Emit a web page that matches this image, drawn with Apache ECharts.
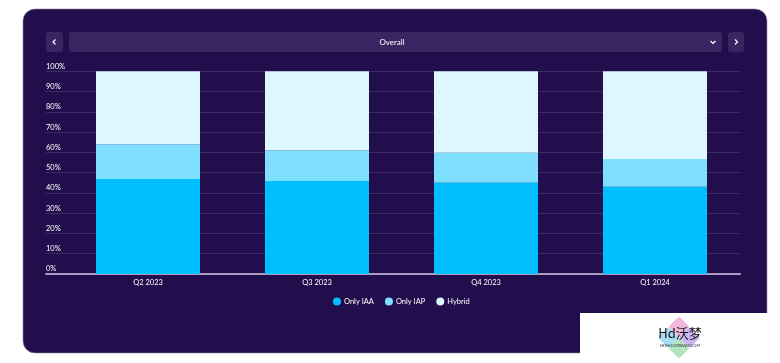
<!DOCTYPE html>
<html>
<head>
<meta charset="utf-8">
<script src="https://cdn.jsdelivr.net/npm/echarts@6/dist/echarts.min.js"></script>
<style>
html,body{margin:0;padding:0;background:#ffffff;}
#chart{width:780px;height:363px;}
</style>
</head>
<body>
<div id="chart"></div>
<script>
const categories = ['Q2 2023', 'Q3 2023', 'Q4 2023', 'Q1 2024'];
const onlyIAA = [46.9, 45.9, 45.0, 43.1];
const onlyIAP = [17.1, 15.1, 14.8, 13.6];
const hybrid = [36.0, 39.0, 40.2, 43.3];
const seriesNames = ['Only IAA', 'Only IAP', 'Hybrid'];
const yTicks = [0, 10, 20, 30, 40, 50, 60, 70, 80, 90, 100];
const filterLabel = 'Overall';

const FONT = 'Lato, "Open Sans", sans-serif';
const chart = echarts.init(document.getElementById('chart'), null, {renderer: 'canvas'});

const option = {
  animation: false,
  backgroundColor: 'transparent',
  textStyle: {fontFamily: FONT},
  graphic: [
    {type: 'rect', z: -10, shape: {x: 23, y: 9, width: 744, height: 344, r: 12},
     style: {fill: '#220e4c', stroke: '#8c86a0', lineWidth: 0.6}},
    {type: 'rect', z: -5, shape: {x: 46, y: 32, width: 17, height: 20, r: 3}, style: {fill: '#3a2562'}},
    {type: 'rect', z: -5, shape: {x: 69, y: 32, width: 653, height: 20, r: 3}, style: {fill: '#3a2562'}},
    {type: 'rect', z: -5, shape: {x: 728, y: 32, width: 16, height: 20, r: 3}, style: {fill: '#3a2562'}},
    {type: 'polyline', z: -4, shape: {points: [[55.5, 39.5], [53, 42], [55.5, 44.5]]}, style: {stroke: '#ffffff', lineWidth: 1.2, fill: null}},
    {type: 'polyline', z: -4, shape: {points: [[735, 39.5], [737.5, 42], [735, 44.5]]}, style: {stroke: '#ffffff', lineWidth: 1.2, fill: null}},
    {type: 'polyline', z: -4, shape: {points: [[710.5, 41], [713, 43.5], [715.5, 41]]}, style: {stroke: '#ffffff', lineWidth: 1.2, fill: null}},
    {type: 'text', z: -4, style: {x: 392, y: 42, text: filterLabel, fill: '#ffffff', font: '8px ' + FONT, textAlign: 'center', textVerticalAlign: 'middle'}},
    {type: 'rect', z: 10, shape: {x: 580, y: 313, width: 200, height: 50}, style: {fill: '#ffffff'}},
    {type: 'group', x: 679, y: 337.5, rotation: Math.PI / 4, children: [
      {type: 'rect', z: 11, shape: {x: -15, y: -15, width: 15, height: 15, r: 2}, style: {fill: '#a9def2'}},
      {type: 'rect', z: 11, shape: {x: 0, y: -15, width: 15, height: 15, r: 2}, style: {fill: '#f3b6dc'}},
      {type: 'rect', z: 11, shape: {x: -15, y: 0, width: 15, height: 15, r: 2}, style: {fill: '#b4e3bf'}},
      {type: 'rect', z: 11, shape: {x: 0, y: 0, width: 15, height: 15, r: 2}, style: {fill: '#cbb8f2'}}
    ]},
    {type: 'text', z: 12, style: {x: 680, y: 333, text: 'Hd沃梦', fill: '#111111', font: '13px "Noto Sans CJK SC", sans-serif', textAlign: 'center', textVerticalAlign: 'middle'}},
    {type: 'text', z: 12, style: {x: 680, y: 346, text: 'HDHOODREAM.COM', fill: '#333333', font: '4px ' + FONT, textAlign: 'center', textVerticalAlign: 'middle'}}
  ],
  legend: {
    data: seriesNames,
    left: 333,
    top: 297.5,
    padding: 0,
    icon: 'circle',
    itemWidth: 8,
    itemHeight: 8,
    itemGap: 11,
    textStyle: {color: '#ffffff', fontSize: 7.5, fontFamily: FONT, padding: [0, 0, 0, -2]}
  },
  grid: [
    {left: 46, right: 40, top: 71.3, bottom: 89, containLabel: false},
    {left: 63.5, right: 40.5, top: 71.3, bottom: 89, containLabel: false}
  ],
  xAxis: [
    {type: 'category', gridIndex: 0, data: categories,
     axisLine: {show: true, lineStyle: {color: '#a99dc1', width: 2}},
     axisTick: {show: false}, axisLabel: {show: false}, splitLine: {show: false}},
    {type: 'category', gridIndex: 1, data: categories,
     axisLine: {show: false}, axisTick: {show: false},
     axisLabel: {color: '#ffffff', fontSize: 7.5, margin: 5, fontFamily: FONT}}
  ],
  yAxis: [
    {type: 'value', gridIndex: 0, min: 0, max: 100, interval: 10,
     axisLine: {show: false}, axisTick: {show: false},
     axisLabel: {inside: true, margin: 0, formatter: function (v) { return yTicks.indexOf(v) >= 0 ? v + '%' : ''; },
       color: '#ffffff', fontSize: 7.5, verticalAlign: 'bottom', lineHeight: 10, fontFamily: FONT},
     splitLine: {show: true, lineStyle: {color: '#3b2a66', width: 1}}},
    {type: 'value', gridIndex: 1, min: 0, max: 100, interval: 10, show: false}
  ],
  series: [
    {name: seriesNames[0], type: 'bar', stack: 'total', xAxisIndex: 1, yAxisIndex: 1, data: onlyIAA, barWidth: 104,
     itemStyle: {color: '#00bfff'}},
    {name: seriesNames[1], type: 'bar', stack: 'total', xAxisIndex: 1, yAxisIndex: 1, data: onlyIAP, barWidth: 104,
     itemStyle: {color: '#7fdfff'}},
    {name: seriesNames[2], type: 'bar', stack: 'total', xAxisIndex: 1, yAxisIndex: 1, data: hybrid, barWidth: 104,
     itemStyle: {color: '#ddf6ff'}}
  ]
};
chart.setOption(option);
</script>
</body>
</html>
